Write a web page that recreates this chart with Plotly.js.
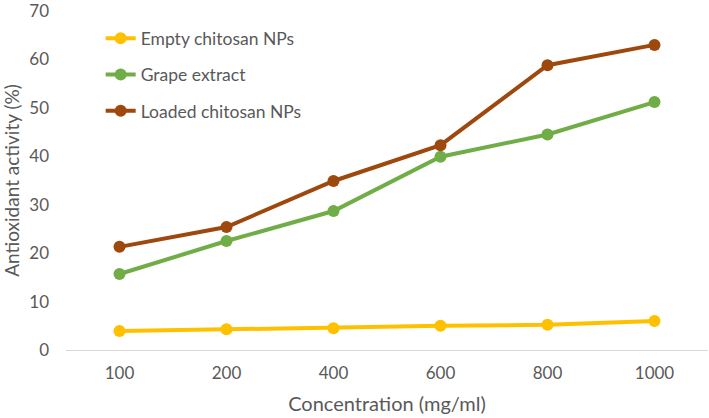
<!DOCTYPE html>
<html>
<head>
<meta charset="utf-8">
<script src="https://cdn.plot.ly/plotly-3.0.1.min.js"></script>
<style>html,body{margin:0;padding:0;background:#fff;}#chart{width:709px;height:418px;}</style>
</head>
<body>
<div id="chart"></div>
<script>
const concentrations = ["100", "200", "400", "600", "800", "1000"];
const emptyChitosan = [3.9, 4.3, 4.5, 5.0, 5.2, 6.0];
const grapeExtract = [15.7, 22.5, 28.7, 39.9, 44.5, 51.2];
const loadedChitosan = [21.3, 25.4, 34.9, 42.3, 58.8, 63.0];

const names = ["Empty chitosan NPs", "Grape extract", "Loaded chitosan NPs"];
const colors = ["#FFC000", "#70AD47", "#9E480E"];
const series = [emptyChitosan, grapeExtract, loadedChitosan];

const traces = series.map((vals, i) => ({
  x: concentrations,
  y: vals,
  type: "scatter",
  mode: "lines+markers",
  name: names[i],
  legendgroup: "g" + i,
  line: {color: colors[i], width: 4},
  marker: {color: colors[i], size: 12}
}));

const fam = "Lato, 'Open Sans', sans-serif";
const txt = "#595959";

const layout = {
  width: 709, height: 418,
  margin: {l: 66, r: 1, t: 11, b: 68},
  paper_bgcolor: "#fff", plot_bgcolor: "#fff",
  font: {family: fam, color: txt, size: 17},
  showlegend: true,
  legend: {x: 0.054, y: 0.972, xanchor: "left", yanchor: "top", bgcolor: "rgba(0,0,0,0)",
           font: {family: fam, color: txt, size: 17.5}, tracegroupgap: 10.5, traceorder: "grouped"},
  xaxis: {
    type: "category", range: [-0.5, 5.5],
    showgrid: false, zeroline: false,
    showline: true, linecolor: "#D9D9D9", linewidth: 1,
    ticks: "", ticklabelstandoff: 8,
    tickfont: {family: fam, size: 17, color: txt},
    title: {text: "Concentration (mg/ml)", font: {family: fam, size: 20, color: txt}, standoff: 14}
  },
  yaxis: {
    range: [0, 70], dtick: 10,
    showgrid: false, zeroline: false, showline: false,
    ticks: "", ticklabelstandoff: 16, ticklabeloverflow: "allow",
    tickfont: {family: fam, size: 17, color: txt},
    title: {text: "Antioxidant activity (%)", font: {family: fam, size: 19, color: txt}, standoff: 8}
  }
};

Plotly.newPlot("chart", traces, layout, {displayModeBar: false, staticPlot: true});
</script>
</body>
</html>
